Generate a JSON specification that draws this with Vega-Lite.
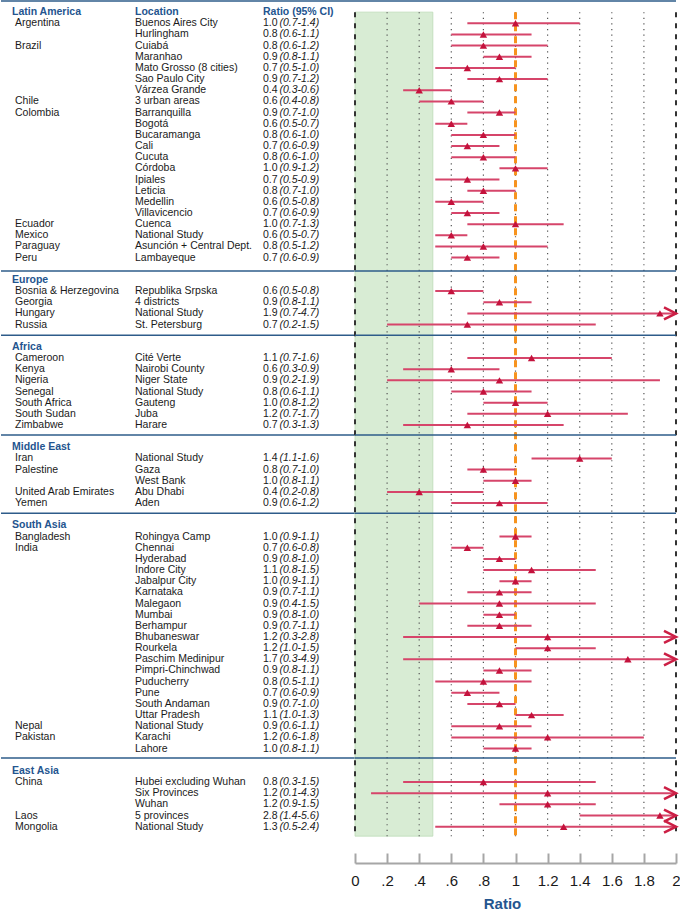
{
  "$schema": "https://vega.github.io/schema/vega-lite/v6.json",
  "padding": 0,
  "background": "white",
  "spacing": 0,
  "bounds": "flush",
  "config": {"view": {"stroke": null}, "text": {"font": "Liberation Sans"}},
  "datasets": {
    "rows": [
      {"row": 1, "country": "Argentina", "location": "Buenos Aires City", "ratio": "1.0", "ci": "(0.7-1.4)", "marker": 1.0, "lo": 0.7, "hi": 1.4},
      {"row": 2, "country": "", "location": "Hurlingham", "ratio": "0.8", "ci": "(0.6-1.1)", "marker": 0.8, "lo": 0.6, "hi": 1.1},
      {"row": 3, "country": "Brazil", "location": "Cuiabá", "ratio": "0.8", "ci": "(0.6-1.2)", "marker": 0.8, "lo": 0.6, "hi": 1.2},
      {"row": 4, "country": "", "location": "Maranhao", "ratio": "0.9", "ci": "(0.8-1.1)", "marker": 0.9, "lo": 0.8, "hi": 1.1},
      {"row": 5, "country": "", "location": "Mato Grosso (8 cities)", "ratio": "0.7", "ci": "(0.5-1.0)", "marker": 0.7, "lo": 0.5, "hi": 1.0},
      {"row": 6, "country": "", "location": "Sao Paulo City", "ratio": "0.9", "ci": "(0.7-1.2)", "marker": 0.9, "lo": 0.7, "hi": 1.2},
      {"row": 7, "country": "", "location": "Várzea Grande", "ratio": "0.4", "ci": "(0.3-0.6)", "marker": 0.4, "lo": 0.3, "hi": 0.6},
      {"row": 8, "country": "Chile", "location": "3 urban areas", "ratio": "0.6", "ci": "(0.4-0.8)", "marker": 0.6, "lo": 0.4, "hi": 0.8},
      {"row": 9, "country": "Colombia", "location": "Barranquilla", "ratio": "0.9", "ci": "(0.7-1.0)", "marker": 0.9, "lo": 0.7, "hi": 1.0},
      {"row": 10, "country": "", "location": "Bogotá", "ratio": "0.6", "ci": "(0.5-0.7)", "marker": 0.6, "lo": 0.5, "hi": 0.7},
      {"row": 11, "country": "", "location": "Bucaramanga", "ratio": "0.8", "ci": "(0.6-1.0)", "marker": 0.8, "lo": 0.6, "hi": 1.0},
      {"row": 12, "country": "", "location": "Cali", "ratio": "0.7", "ci": "(0.6-0.9)", "marker": 0.7, "lo": 0.6, "hi": 0.9},
      {"row": 13, "country": "", "location": "Cucuta", "ratio": "0.8", "ci": "(0.6-1.0)", "marker": 0.8, "lo": 0.6, "hi": 1.0},
      {"row": 14, "country": "", "location": "Córdoba", "ratio": "1.0", "ci": "(0.9-1.2)", "marker": 1.0, "lo": 0.9, "hi": 1.2},
      {"row": 15, "country": "", "location": "Ipiales", "ratio": "0.7", "ci": "(0.5-0.9)", "marker": 0.7, "lo": 0.5, "hi": 0.9},
      {"row": 16, "country": "", "location": "Leticia", "ratio": "0.8", "ci": "(0.7-1.0)", "marker": 0.8, "lo": 0.7, "hi": 1.0},
      {"row": 17, "country": "", "location": "Medellin", "ratio": "0.6", "ci": "(0.5-0.8)", "marker": 0.6, "lo": 0.5, "hi": 0.8},
      {"row": 18, "country": "", "location": "Villavicencio", "ratio": "0.7", "ci": "(0.6-0.9)", "marker": 0.7, "lo": 0.6, "hi": 0.9},
      {"row": 19, "country": "Ecuador", "location": "Cuenca", "ratio": "1.0", "ci": "(0.7-1.3)", "marker": 1.0, "lo": 0.7, "hi": 1.3},
      {"row": 20, "country": "Mexico", "location": "National Study", "ratio": "0.6", "ci": "(0.5-0.7)", "marker": 0.6, "lo": 0.5, "hi": 0.7},
      {"row": 21, "country": "Paraguay", "location": "Asunción + Central Dept.", "ratio": "0.8", "ci": "(0.5-1.2)", "marker": 0.8, "lo": 0.5, "hi": 1.2},
      {"row": 22, "country": "Peru", "location": "Lambayeque", "ratio": "0.7", "ci": "(0.6-0.9)", "marker": 0.7, "lo": 0.6, "hi": 0.9},
      {"row": 25, "country": "Bosnia & Herzegovina", "location": "Republika Srpska", "ratio": "0.6", "ci": "(0.5-0.8)", "marker": 0.6, "lo": 0.5, "hi": 0.8},
      {"row": 26, "country": "Georgia", "location": "4 districts", "ratio": "0.9", "ci": "(0.8-1.1)", "marker": 0.9, "lo": 0.8, "hi": 1.1},
      {"row": 27, "country": "Hungary", "location": "National Study", "ratio": "1.9", "ci": "(0.7-4.7)", "marker": 1.9, "lo": 0.7, "hi": 4.7},
      {"row": 28, "country": "Russia", "location": "St. Petersburg", "ratio": "0.7", "ci": "(0.2-1.5)", "marker": 0.7, "lo": 0.2, "hi": 1.5},
      {"row": 31, "country": "Cameroon", "location": "Cité Verte", "ratio": "1.1", "ci": "(0.7-1.6)", "marker": 1.1, "lo": 0.7, "hi": 1.6},
      {"row": 32, "country": "Kenya", "location": "Nairobi County", "ratio": "0.6", "ci": "(0.3-0.9)", "marker": 0.6, "lo": 0.3, "hi": 0.9},
      {"row": 33, "country": "Nigeria", "location": "Niger State", "ratio": "0.9", "ci": "(0.2-1.9)", "marker": 0.9, "lo": 0.2, "hi": 1.9},
      {"row": 34, "country": "Senegal", "location": "National Study", "ratio": "0.8", "ci": "(0.6-1.1)", "marker": 0.8, "lo": 0.6, "hi": 1.1},
      {"row": 35, "country": "South Africa", "location": "Gauteng", "ratio": "1.0", "ci": "(0.8-1.2)", "marker": 1.0, "lo": 0.8, "hi": 1.2},
      {"row": 36, "country": "South Sudan", "location": "Juba", "ratio": "1.2", "ci": "(0.7-1.7)", "marker": 1.2, "lo": 0.7, "hi": 1.7},
      {"row": 37, "country": "Zimbabwe", "location": "Harare", "ratio": "0.7", "ci": "(0.3-1.3)", "marker": 0.7, "lo": 0.3, "hi": 1.3},
      {"row": 40, "country": "Iran", "location": "National Study", "ratio": "1.4", "ci": "(1.1-1.6)", "marker": 1.4, "lo": 1.1, "hi": 1.6},
      {"row": 41, "country": "Palestine", "location": "Gaza", "ratio": "0.8", "ci": "(0.7-1.0)", "marker": 0.8, "lo": 0.7, "hi": 1.0},
      {"row": 42, "country": "", "location": "West Bank", "ratio": "1.0", "ci": "(0.8-1.1)", "marker": 1.0, "lo": 0.8, "hi": 1.1},
      {"row": 43, "country": "United Arab Emirates", "location": "Abu Dhabi", "ratio": "0.4", "ci": "(0.2-0.8)", "marker": 0.4, "lo": 0.2, "hi": 0.8},
      {"row": 44, "country": "Yemen", "location": "Aden", "ratio": "0.9", "ci": "(0.6-1.2)", "marker": 0.9, "lo": 0.6, "hi": 1.2},
      {"row": 47, "country": "Bangladesh", "location": "Rohingya Camp", "ratio": "1.0", "ci": "(0.9-1.1)", "marker": 1.0, "lo": 0.9, "hi": 1.1},
      {"row": 48, "country": "India", "location": "Chennai", "ratio": "0.7", "ci": "(0.6-0.8)", "marker": 0.7, "lo": 0.6, "hi": 0.8},
      {"row": 49, "country": "", "location": "Hyderabad", "ratio": "0.9", "ci": "(0.8-1.0)", "marker": 0.9, "lo": 0.8, "hi": 1.0},
      {"row": 50, "country": "", "location": "Indore City", "ratio": "1.1", "ci": "(0.8-1.5)", "marker": 1.1, "lo": 0.8, "hi": 1.5},
      {"row": 51, "country": "", "location": "Jabalpur City", "ratio": "1.0", "ci": "(0.9-1.1)", "marker": 1.0, "lo": 0.9, "hi": 1.1},
      {"row": 52, "country": "", "location": "Karnataka", "ratio": "0.9", "ci": "(0.7-1.1)", "marker": 0.9, "lo": 0.7, "hi": 1.1},
      {"row": 53, "country": "", "location": "Malegaon", "ratio": "0.9", "ci": "(0.4-1.5)", "marker": 0.9, "lo": 0.4, "hi": 1.5},
      {"row": 54, "country": "", "location": "Mumbai", "ratio": "0.9", "ci": "(0.8-1.0)", "marker": 0.9, "lo": 0.8, "hi": 1.0},
      {"row": 55, "country": "", "location": "Berhampur", "ratio": "0.9", "ci": "(0.7-1.1)", "marker": 0.9, "lo": 0.7, "hi": 1.1},
      {"row": 56, "country": "", "location": "Bhubaneswar", "ratio": "1.2", "ci": "(0.3-2.8)", "marker": 1.2, "lo": 0.3, "hi": 2.8},
      {"row": 57, "country": "", "location": "Rourkela", "ratio": "1.2", "ci": "(1.0-1.5)", "marker": 1.2, "lo": 1.0, "hi": 1.5},
      {"row": 58, "country": "", "location": "Paschim Medinipur", "ratio": "1.7", "ci": "(0.3-4.9)", "marker": 1.7, "lo": 0.3, "hi": 4.9},
      {"row": 59, "country": "", "location": "Pimpri-Chinchwad", "ratio": "0.9", "ci": "(0.8-1.1)", "marker": 0.9, "lo": 0.8, "hi": 1.1},
      {"row": 60, "country": "", "location": "Puducherry", "ratio": "0.8", "ci": "(0.5-1.1)", "marker": 0.8, "lo": 0.5, "hi": 1.1},
      {"row": 61, "country": "", "location": "Pune", "ratio": "0.7", "ci": "(0.6-0.9)", "marker": 0.7, "lo": 0.6, "hi": 0.9},
      {"row": 62, "country": "", "location": "South Andaman", "ratio": "0.9", "ci": "(0.7-1.0)", "marker": 0.9, "lo": 0.7, "hi": 1.0},
      {"row": 63, "country": "", "location": "Uttar Pradesh", "ratio": "1.1", "ci": "(1.0-1.3)", "marker": 1.1, "lo": 1.0, "hi": 1.3},
      {"row": 64, "country": "Nepal", "location": "National Study", "ratio": "0.9", "ci": "(0.6-1.1)", "marker": 0.9, "lo": 0.6, "hi": 1.1},
      {"row": 65, "country": "Pakistan", "location": "Karachi", "ratio": "1.2", "ci": "(0.6-1.8)", "marker": 1.2, "lo": 0.6, "hi": 1.8},
      {"row": 66, "country": "", "location": "Lahore", "ratio": "1.0", "ci": "(0.8-1.1)", "marker": 1.0, "lo": 0.8, "hi": 1.1},
      {"row": 69, "country": "China", "location": "Hubei excluding Wuhan", "ratio": "0.8", "ci": "(0.3-1.5)", "marker": 0.8, "lo": 0.3, "hi": 1.5},
      {"row": 70, "country": "", "location": "Six Provinces", "ratio": "1.2", "ci": "(0.1-4.3)", "marker": 1.2, "lo": 0.1, "hi": 4.3},
      {"row": 71, "country": "", "location": "Wuhan", "ratio": "1.2", "ci": "(0.9-1.5)", "marker": 1.2, "lo": 0.9, "hi": 1.5},
      {"row": 72, "country": "Laos", "location": "5 provinces", "ratio": "2.8", "ci": "(1.4-5.6)", "marker": 1.9, "lo": 1.4, "hi": 5.6},
      {"row": 73, "country": "Mongolia", "location": "National Study", "ratio": "1.3", "ci": "(0.5-2.4)", "marker": 1.3, "lo": 0.5, "hi": 2.4}
    ],
    "heads": [
      {"row": 0, "section": "Latin America", "loc": "Location", "rat": "Ratio (95% CI)"},
      {"row": 24, "section": "Europe"},
      {"row": 30, "section": "Africa"},
      {"row": 39, "section": "Middle East"},
      {"row": 46, "section": "South Asia"},
      {"row": 68, "section": "East Asia"}
    ],
    "seps": [
      {"row": -1.0},
      {"row": 23.2},
      {"row": 28.95},
      {"row": 37.9},
      {"row": 44.9},
      {"row": 66.85}
    ],
    "grid": [
      {"x": 0, "kind": "edge"},
      {"x": 0.2, "kind": "minor"},
      {"x": 0.4, "kind": "minor"},
      {"x": 0.6, "kind": "minor"},
      {"x": 0.8, "kind": "minor"},
      {"x": 1.0, "kind": "minor"},
      {"x": 1.2, "kind": "minor"},
      {"x": 1.4, "kind": "minor"},
      {"x": 1.6, "kind": "minor"},
      {"x": 1.8, "kind": "minor"},
      {"x": 2, "kind": "edge"},
      {"x": 1.0, "kind": "null"}
    ],
    "band": [
      {"x0": 0, "x1": 0.485, "r0": 0, "r1": 73.85}
    ]
  },
  "hconcat": [
    {
      "width": 354,
      "height": 863,
      "layer": [
        {
          "data": {"name": "seps"},
          "mark": {"type": "rule", "color": "#2e5c8a", "strokeWidth": 1.5},
          "encoding": {
            "y": {"field": "row", "type": "quantitative", "scale": {"domain": [-1.088, 76.256], "reverse": true, "nice": false, "zero": false}, "axis": null}
          }
        },
        {
          "data": {"name": "heads"},
          "mark": {"type": "text", "align": "left", "baseline": "middle", "fontSize": 10.5, "fontWeight": "bold", "color": "#24558f"},
          "encoding": {
            "x": {"datum": 11, "type": "quantitative", "scale": {"domain": [0, 354], "nice": false, "zero": false}, "axis": null},
            "y": {"field": "row", "type": "quantitative"},
            "text": {"field": "section"}
          }
        },
        {
          "data": {"name": "heads"},
          "transform": [{"filter": "datum.loc"}],
          "mark": {"type": "text", "align": "left", "baseline": "middle", "fontSize": 10.5, "fontWeight": "bold", "color": "#24558f"},
          "encoding": {
            "x": {"datum": 134, "type": "quantitative"},
            "y": {"field": "row", "type": "quantitative"},
            "text": {"field": "loc"}
          }
        },
        {
          "data": {"name": "heads"},
          "transform": [{"filter": "datum.rat"}],
          "mark": {"type": "text", "align": "left", "baseline": "middle", "fontSize": 10.5, "fontWeight": "bold", "color": "#24558f"},
          "encoding": {
            "x": {"datum": 262, "type": "quantitative"},
            "y": {"field": "row", "type": "quantitative"},
            "text": {"field": "rat"}
          }
        },
        {
          "data": {"name": "rows"},
          "mark": {"type": "text", "align": "left", "baseline": "middle", "fontSize": 10.5, "color": "#1a1a1a"},
          "encoding": {
            "x": {"datum": 14, "type": "quantitative"},
            "y": {"field": "row", "type": "quantitative"},
            "text": {"field": "country"}
          }
        },
        {
          "data": {"name": "rows"},
          "mark": {"type": "text", "align": "left", "baseline": "middle", "fontSize": 10.5, "color": "#1a1a1a"},
          "encoding": {
            "x": {"datum": 134, "type": "quantitative"},
            "y": {"field": "row", "type": "quantitative"},
            "text": {"field": "location"}
          }
        },
        {
          "data": {"name": "rows"},
          "mark": {"type": "text", "align": "left", "baseline": "middle", "fontSize": 10.5, "color": "#1a1a1a"},
          "encoding": {
            "x": {"datum": 262, "type": "quantitative"},
            "y": {"field": "row", "type": "quantitative"},
            "text": {"field": "ratio"}
          }
        },
        {
          "data": {"name": "rows"},
          "mark": {"type": "text", "align": "left", "baseline": "middle", "fontSize": 10.5, "fontStyle": "italic", "color": "#1a1a1a"},
          "encoding": {
            "x": {"datum": 278.5, "type": "quantitative"},
            "y": {"field": "row", "type": "quantitative"},
            "text": {"field": "ci"}
          }
        }
      ]
    },
    {
      "width": 321,
      "height": 863,
      "layer": [
        {
          "data": {"name": "band"},
          "mark": {"type": "rect", "fill": "#d8ecd4", "stroke": "#bcdab6", "strokeWidth": 0.8},
          "encoding": {
            "x": {
              "field": "x0", "type": "quantitative",
              "scale": {"domain": [0, 2], "nice": false, "zero": false, "clamp": true},
              "axis": {
                "values": [0, 0.2, 0.4, 0.6, 0.8, 1, 1.2, 1.4, 1.6, 1.8, 2],
                "tickCount": 20,
                "labelExpr": "datum.value > 0 && datum.value < 1 ? replace(format(datum.value, '.1f'), '0.', '.') : format(datum.value, '~g')",
                "grid": false,
                "domainColor": "#a6a6a6", "domainWidth": 2,
                "tickColor": "#a6a6a6", "tickWidth": 2, "tickSize": -10,
                "labelPadding": 20, "labelFontSize": 15, "labelFont": "Liberation Sans", "labelColor": "#1a1a1a",
                "labelFlush": false, "labelOverlap": false,
                "title": "Ratio", "titleFont": "Liberation Sans", "titleFontSize": 15, "titleFontWeight": "bold",
                "titleColor": "#24558f", "titlePadding": 8, "titleX": 147
              }
            },
            "x2": {"field": "x1"},
            "y": {"field": "r0", "type": "quantitative", "scale": {"domain": [-1.088, 76.256], "reverse": true, "nice": false, "zero": false}, "axis": null},
            "y2": {"field": "r1"}
          }
        },
        {
          "data": {"name": "grid"},
          "transform": [{"filter": "datum.kind == 'minor'"}],
          "mark": {"type": "rule", "color": "#555555", "strokeWidth": 1.2, "strokeDash": [1.2, 4.4]},
          "encoding": {
            "x": {"field": "x", "type": "quantitative"},
            "y": {"datum": 0, "type": "quantitative"},
            "y2": {"datum": 73.85}
          }
        },
        {
          "data": {"name": "grid"},
          "transform": [{"filter": "datum.kind == 'edge'"}],
          "mark": {"type": "rule", "color": "#333333", "strokeWidth": 2, "strokeDash": [5, 6]},
          "encoding": {
            "x": {"field": "x", "type": "quantitative"},
            "y": {"datum": 0, "type": "quantitative"},
            "y2": {"datum": 73.85}
          }
        },
        {
          "data": {"name": "grid"},
          "transform": [{"filter": "datum.kind == 'null'"}],
          "mark": {"type": "rule", "color": "#f7931e", "strokeWidth": 3, "strokeDash": [7, 5]},
          "encoding": {
            "x": {"field": "x", "type": "quantitative"},
            "y": {"datum": 0, "type": "quantitative"},
            "y2": {"datum": 73.85}
          }
        },
        {
          "data": {"name": "seps"},
          "mark": {"type": "rule", "color": "#2e5c8a", "strokeWidth": 1.5},
          "encoding": {
            "y": {"field": "row", "type": "quantitative"}
          }
        },
        {
          "data": {"name": "rows"},
          "mark": {"type": "rule", "color": "#d6456a", "strokeWidth": 2},
          "encoding": {
            "x": {"field": "lo", "type": "quantitative"},
            "x2": {"field": "hi"},
            "y": {"field": "row", "type": "quantitative"}
          }
        },
        {
          "data": {"name": "rows"},
          "transform": [{"filter": "datum.hi > 2"}],
          "mark": {"type": "point", "shape": "M-2,-1L0,0L-2,1", "filled": false, "stroke": "#cc1f45", "strokeWidth": 2.5, "size": 144, "opacity": 1},
          "encoding": {
            "x": {"datum": 2, "type": "quantitative"},
            "y": {"field": "row", "type": "quantitative"}
          }
        },
        {
          "data": {"name": "rows"},
          "mark": {"type": "point", "shape": "triangle-up", "filled": true, "color": "#c4123c", "size": 55, "opacity": 1},
          "encoding": {
            "x": {"field": "marker", "type": "quantitative"},
            "y": {"field": "row", "type": "quantitative"}
          }
        }
      ]
    }
  ]
}
